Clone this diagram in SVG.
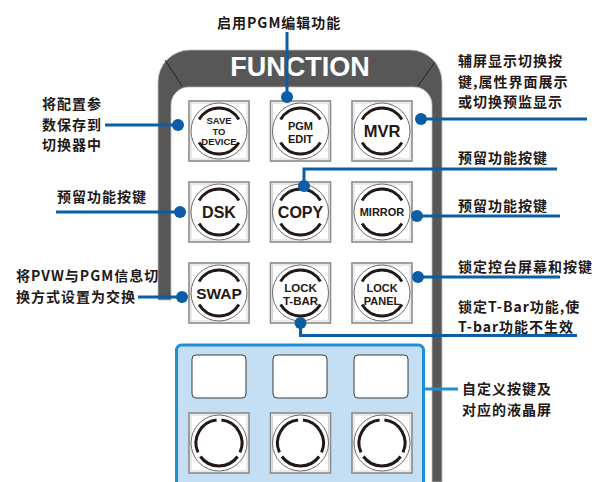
<svg xmlns="http://www.w3.org/2000/svg" xmlns:xlink="http://www.w3.org/1999/xlink" width="595" height="482" viewBox="0 0 595 482">
  <style>
    .lbl { font-family: "Noto Sans CJK SC", "Liberation Sans", sans-serif; font-weight: bold; font-size: 14px; letter-spacing: 1px; fill: #231815; }
    .key { font-family: "Liberation Sans", Arial, sans-serif; font-weight: bold; fill: #231815; text-anchor: middle; }
    .wire { fill: none; stroke: #0b5ea6; stroke-width: 3; }
    .dot { fill: #0b5ea6; }
    .frame { fill: #ffffff; stroke: #8a8a8a; stroke-width: 1.6; }
    .frame-in { fill: none; stroke: #d4d4d4; stroke-width: 1; }
    .ring { fill: #ffffff; stroke: #4a4a4a; stroke-width: 0.8; }
    .arc { fill: none; stroke: #231815; stroke-width: 3; }
  </style>
  <defs>
    <!-- labelled key: square frame, ring, top and bottom arcs -->
    <g id="keycap">
      <rect class="frame" x="-30" y="-30" width="60" height="60"/>
      <rect class="frame-in" x="-28" y="-28" width="56" height="56"/>
      <circle class="ring" r="28"/>
      <path class="arc" d="M -19.9 -11.5 A 23 23 0 0 1 19.9 -11.5"/>
      <path class="arc" d="M 19.9 11.5 A 23 23 0 0 1 -19.9 11.5"/>
    </g>
    <!-- custom key: square frame, ring split into three arcs -->
    <g id="customcap">
      <rect class="frame" x="-30" y="-30" width="60" height="60"/>
      <rect class="frame-in" x="-28" y="-28" width="56" height="56"/>
      <circle class="ring" r="28"/>
      <path class="arc" d="M 2.4 -22.9 A 23 23 0 0 1 21.0 9.4"/>
      <path class="arc" d="M 18.6 13.5 A 23 23 0 0 1 -18.6 13.5"/>
      <path class="arc" d="M -21.0 9.4 A 23 23 0 0 1 -2.4 -22.9"/>
    </g>
  </defs>

  <rect width="595" height="482" fill="#ffffff"/>

  <!-- console body -->
  <g id="panel">
    <path d="M158 300 L158 82 A32 32 0 0 1 190 50 L410 50 A32 32 0 0 1 442 82 L442 482 L432 482 L432 105 A18 18 0 0 0 414 87 L189 87 A18 18 0 0 0 171 105 L171 300 Z" fill="#585757" stroke="#bdbdbd" stroke-width="0.8"/>
    <line x1="165" y1="60" x2="182" y2="86" stroke="#222" stroke-width="1"/>
    <line x1="435" y1="62" x2="418" y2="86" stroke="#222" stroke-width="1"/>
    <text x="300" y="76" font-family="'Liberation Sans', Arial, sans-serif" font-weight="bold" font-size="27" fill="#ffffff" text-anchor="middle">FUNCTION</text>
  </g>

  <!-- row 1 -->
  <g id="key-save">
    <use xlink:href="#keycap" x="219" y="131"/>
    <text class="key" font-size="9.5" x="219" y="124">SAVE</text>
    <text class="key" font-size="9.5" x="219" y="134.5">TO</text>
    <text class="key" font-size="9.5" x="219" y="145">DEVICE</text>
  </g>
  <g id="key-pgm-edit">
    <use xlink:href="#keycap" x="300.5" y="131"/>
    <text class="key" font-size="11" x="300.5" y="130">PGM</text>
    <text class="key" font-size="11" x="300.5" y="143">EDIT</text>
  </g>
  <g id="key-mvr">
    <use xlink:href="#keycap" x="382" y="131"/>
    <text class="key" font-size="16.5" x="382" y="137">MVR</text>
  </g>

  <!-- row 2 -->
  <g id="key-dsk">
    <use xlink:href="#keycap" x="219" y="212"/>
    <text class="key" font-size="16" x="219" y="218">DSK</text>
  </g>
  <g id="key-copy">
    <use xlink:href="#keycap" x="300.5" y="212"/>
    <text class="key" font-size="16" x="300.5" y="218">COPY</text>
  </g>
  <g id="key-mirror">
    <use xlink:href="#keycap" x="382" y="212"/>
    <text class="key" font-size="11" x="382" y="216">MIRROR</text>
  </g>

  <!-- row 3 -->
  <g id="key-swap">
    <use xlink:href="#keycap" x="219" y="293"/>
    <text class="key" font-size="15.5" x="219" y="299">SWAP</text>
  </g>
  <g id="key-lock-tbar">
    <use xlink:href="#keycap" x="300.5" y="293"/>
    <text class="key" font-size="11.5" x="300.5" y="292">LOCK</text>
    <text class="key" font-size="11.5" x="300.5" y="305">T-BAR</text>
  </g>
  <g id="key-lock-panel">
    <use xlink:href="#keycap" x="382" y="293"/>
    <text class="key" font-size="11" x="382" y="292">LOCK</text>
    <text class="key" font-size="11" x="382" y="305">PANEL</text>
  </g>

  <!-- custom keys with LCD windows -->
  <g id="custom-area">
    <rect x="176.5" y="345" width="247" height="150" rx="5" fill="#c4dff3" stroke="#1c8fd6" stroke-width="3"/>
    <rect x="192" y="355" width="54" height="43" rx="4" fill="#ffffff" stroke="#3a3a3a" stroke-width="1"/>
    <rect x="273" y="355" width="54" height="43" rx="4" fill="#ffffff" stroke="#3a3a3a" stroke-width="1"/>
    <rect x="354" y="355" width="54" height="43" rx="4" fill="#ffffff" stroke="#3a3a3a" stroke-width="1"/>
    <use xlink:href="#customcap" x="219" y="443"/>
    <use xlink:href="#customcap" x="300.5" y="443"/>
    <use xlink:href="#customcap" x="382" y="443"/>
  </g>

  <!-- connectors -->
  <g id="connectors">
    <path class="wire" d="M287 32 V97"/>
    <circle class="dot" cx="287" cy="97" r="6"/>
    <path class="wire" d="M105 125 H178"/>
    <circle class="dot" cx="178" cy="125" r="6"/>
    <path class="wire" d="M421 119 H587"/>
    <circle class="dot" cx="421" cy="119" r="6"/>
    <path class="wire" d="M56 212 H180"/>
    <circle class="dot" cx="180" cy="212" r="6"/>
    <path class="wire" d="M304 186 V169 H557"/>
    <circle class="dot" cx="304" cy="186" r="6"/>
    <path class="wire" d="M417 216 H560"/>
    <circle class="dot" cx="417" cy="216" r="6"/>
    <path class="wire" d="M418 277 H560"/>
    <circle class="dot" cx="418" cy="277" r="6"/>
    <path class="wire" d="M300.5 323 V335.5 H577"/>
    <circle class="dot" cx="300.5" cy="323" r="6"/>
    <path class="wire" d="M138 297 H182"/>
    <circle class="dot" cx="182" cy="297" r="6"/>
    <path d="M423 389 H458" fill="none" stroke="#1c8fd6" stroke-width="3"/>
  </g>

  <!-- captions -->
  <g id="captions">
    <text class="lbl" x="217" y="27.5">启用PGM编辑功能</text>
    <text class="lbl" x="42" y="109">将配置参</text>
    <text class="lbl" x="42" y="130">数保存到</text>
    <text class="lbl" x="42" y="150">切换器中</text>
    <text class="lbl" x="57" y="202">预留功能按键</text>
    <text class="lbl" x="16" y="281">将PVW与PGM信息切</text>
    <text class="lbl" x="16" y="302">换方式设置为交换</text>
    <text class="lbl" x="458" y="66">辅屏显示切换按</text>
    <text class="lbl" x="458" y="87">键,属性界面展示</text>
    <text class="lbl" x="458" y="107">或切换预监显示</text>
    <text class="lbl" x="458" y="163">预留功能按键</text>
    <text class="lbl" x="458" y="211">预留功能按键</text>
    <text class="lbl" x="458" y="272">锁定控台屏幕和按键</text>
    <text class="lbl" x="458" y="312">锁定T-Bar功能,使</text>
    <text class="lbl" x="458" y="332">T-bar功能不生效</text>
    <text class="lbl" x="462" y="394">自定义按键及</text>
    <text class="lbl" x="462" y="415">对应的液晶屏</text>
  </g>
</svg>
